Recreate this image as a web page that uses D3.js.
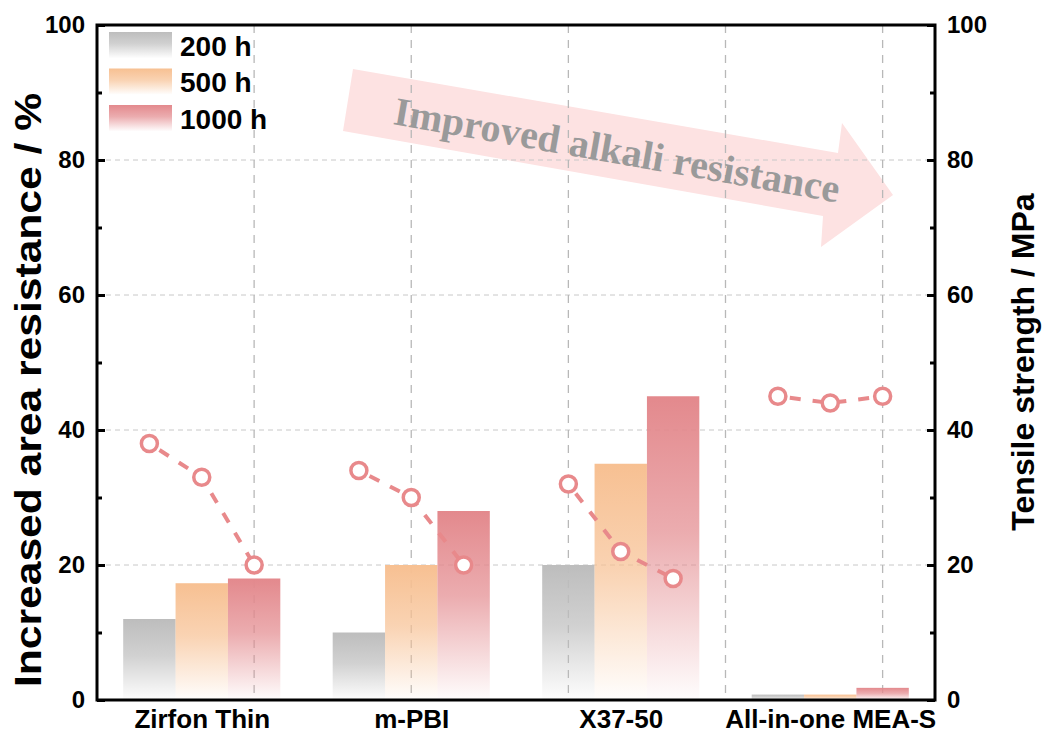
<!DOCTYPE html>
<html>
<head>
<meta charset="utf-8">
<script src="https://cdn.jsdelivr.net/npm/d3@7"></script>
<style>
  body { margin: 0; background: #fff; }
  svg { font-family: Arial, "Liberation Sans", sans-serif; }
</style>
</head>
<body>
<svg id="chart" width="1044" height="736"></svg>
<script>
// data
var categories = ["Zirfon Thin", "m-PBI", "X37-50", "All-in-one MEA-S"];
var series = ["200 h", "500 h", "1000 h"];
var resist200 = [12, 10, 20, 0.8];
var resist500 = [17.3, 20, 35, 0.8];
var resist1000 = [18, 28, 45, 1.8];
var tensile200 = [38, 34, 32, 45];
var tensile500 = [33, 30, 22, 44];
var tensile1000 = [20, 20, 18, 45];
var yTicks = [0, 20, 40, 60, 80, 100];
var yMinor = [10, 30, 50, 70, 90];
var xGrid = [1.25, 2.0, 2.75, 3.5, 4.25];

var colors = ["#bdbdbd", "#f7c092", "#e3898d"];
var ptColor = "#e8898b";

var pl = 97, pr = 935, pt = 25, pb = 700;

var svg = d3.select("#chart");
var x = d3.scaleLinear().domain([0.5, 4.5]).range([pl, pr]);
var y = d3.scaleLinear().domain([0, 100]).range([pb, pt]);
var y2 = d3.scaleLinear().domain([0, 100]).range([pb, pt]);
var bw = 0.25, offs = [-0.25, 0, 0.25];

// gradients, colour on top fading out to the bottom
var defs = svg.append("defs");
colors.forEach(function(c, i) {
  var g = defs.append("linearGradient").attr("id", "grad" + i)
    .attr("x1", 0).attr("y1", 0).attr("x2", 0).attr("y2", 1);
  g.append("stop").attr("offset", 0).attr("stop-color", c).attr("stop-opacity", 1);
  g.append("stop").attr("offset", 0.45).attr("stop-color", c).attr("stop-opacity", 0.7);
  g.append("stop").attr("offset", 1).attr("stop-color", c).attr("stop-opacity", 0.02);
});

// arrow annotation (behind the grid)
svg.append("polygon")
  .attr("points", [[353,69],[838,153],[842,123],[893,195],[821,247],[823,216],[343,131]].join(" "))
  .attr("fill", "#fde2e2");

// grid
svg.append("g").selectAll("line").data(yTicks.slice(1, 5)).enter().append("line")
  .attr("x1", pl).attr("x2", pr)
  .attr("y1", function(d){ return y(d); }).attr("y2", function(d){ return y(d); })
  .attr("stroke", "#c8c8c8").attr("stroke-width", 1).attr("stroke-dasharray", "5,4");
svg.append("g").selectAll("line").data(xGrid).enter().append("line")
  .attr("y1", pt).attr("y2", pb)
  .attr("x1", function(d){ return x(d); }).attr("x2", function(d){ return x(d); })
  .attr("stroke", "#b8b8b8").attr("stroke-width", 1.3).attr("stroke-dasharray", "8,7");

svg.append("text")
  .attr("transform", "translate(617,150) rotate(10)")
  .attr("text-anchor", "middle").attr("dominant-baseline", "central")
  .attr("font-family", "'Liberation Serif', 'Times New Roman', serif")
  .attr("font-weight", "bold").attr("font-size", 40).attr("fill", "#9a9a9a")
  .text("Improved alkali resistance");

// bars
var resist = [resist200, resist500, resist1000];
resist.forEach(function(vals, s) {
  svg.append("g").selectAll("rect").data(vals).enter().append("rect")
    .attr("x", function(d, i){ return x(i + 1 + offs[s] - bw / 2); })
    .attr("width", x(bw) - x(0))
    .attr("y", function(d){ return y(d); })
    .attr("height", function(d){ return y(0) - y(d); })
    .attr("fill", "url(#grad" + s + ")");
});

// tensile points, one dashed line per material
var tensile = [tensile200, tensile500, tensile1000];
var line = d3.line().x(function(d){ return x(d[0]); }).y(function(d){ return y2(d[1]); });
categories.forEach(function(c, i) {
  var pts = tensile.map(function(t, s){ return [i + 1 + offs[s], t[i]]; });
  svg.append("path").attr("d", line(pts)).attr("fill", "none")
    .attr("stroke", ptColor).attr("stroke-width", 4)
    .attr("stroke-dasharray", "11,12").attr("stroke-dashoffset", -12);
  svg.append("g").selectAll("circle").data(pts).enter().append("circle")
    .attr("cx", function(d){ return x(d[0]); }).attr("cy", function(d){ return y2(d[1]); })
    .attr("r", 8).attr("fill", "#fff").attr("stroke", ptColor).attr("stroke-width", 3.5);
});

// axes
function styleAxis(g) {
  g.select(".domain").remove();
  g.selectAll("line").attr("stroke", "#000").attr("stroke-width", 3);
  g.selectAll("text").attr("font-size", 24).attr("font-weight", "bold").attr("fill", "#000");
}
svg.append("g").attr("transform", "translate(" + pl + ",0)")
  .call(d3.axisLeft(y).tickValues(yTicks).tickSize(-8).tickPadding(12).tickFormat(d3.format("d")))
  .call(styleAxis);
svg.append("g").attr("transform", "translate(" + pl + ",0)")
  .call(d3.axisLeft(y).tickValues(yMinor).tickSize(-5).tickFormat(""))
  .call(styleAxis);
svg.append("g").attr("transform", "translate(" + pr + ",0)")
  .call(d3.axisRight(y2).tickValues(yTicks).tickSize(-8).tickPadding(12).tickFormat(d3.format("d")))
  .call(styleAxis);
svg.append("g").attr("transform", "translate(" + pr + ",0)")
  .call(d3.axisRight(y2).tickValues(yMinor).tickSize(-5).tickFormat(""))
  .call(styleAxis);
svg.append("g").attr("transform", "translate(0," + pb + ")")
  .call(d3.axisBottom(x).tickValues([1, 2, 3, 4]).tickSize(0).tickPadding(10)
    .tickFormat(function(d){ return categories[d - 1]; }))
  .call(styleAxis)
  .selectAll("text").attr("font-size", 26);

// frame
svg.append("rect").attr("x", pl).attr("y", pt)
  .attr("width", pr - pl).attr("height", pb - pt)
  .attr("fill", "none").attr("stroke", "#000").attr("stroke-width", 3);

// axis titles
svg.append("text").attr("transform", "translate(28,390) rotate(-90)")
  .attr("text-anchor", "middle").attr("dominant-baseline", "central")
  .attr("font-size", 36).attr("font-weight", "bold").attr("fill", "#000")
  .attr("textLength", 594).attr("lengthAdjust", "spacingAndGlyphs")
  .text("Increased area resistance / %");
svg.append("text").attr("transform", "translate(1023,362) rotate(-90)")
  .attr("text-anchor", "middle").attr("dominant-baseline", "central")
  .attr("font-size", 32).attr("font-weight", "bold").attr("fill", "#000")
  .text("Tensile strength / MPa");

// legend
var leg = svg.append("g").selectAll("g").data(series).enter().append("g")
  .attr("transform", function(d, i){ return "translate(109," + (32 + i * 36.5) + ")"; });
leg.append("rect").attr("width", 63).attr("height", 26)
  .attr("fill", function(d, i){ return "url(#grad" + i + ")"; });
leg.append("text").attr("x", 71).attr("y", 14).attr("dominant-baseline", "central")
  .attr("font-size", 28).attr("font-weight", "bold").text(function(d){ return d; });
</script>
</body>
</html>
